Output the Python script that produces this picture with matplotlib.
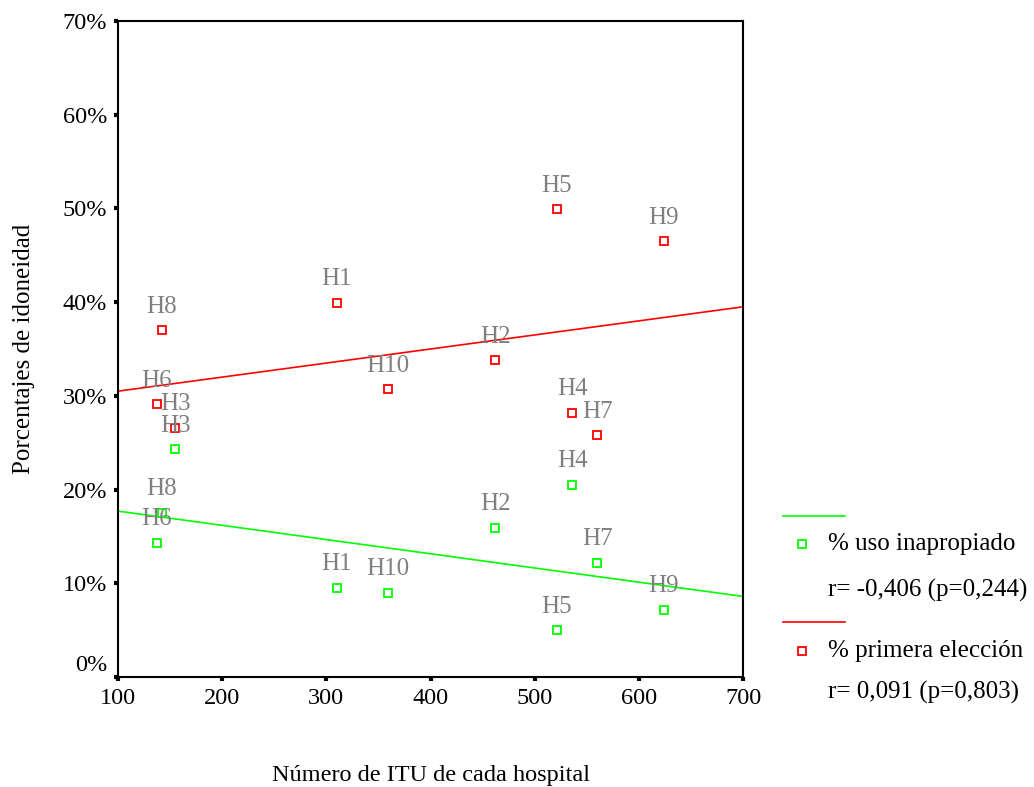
import matplotlib
matplotlib.use('Agg')
import matplotlib.pyplot as plt
import matplotlib.transforms as mtransforms
from matplotlib.lines import Line2D
import numpy as np

plt.rcParams['font.family'] = ['Liberation Serif', 'DejaVu Serif']

# hospitals and their values
hospitals = ['H1', 'H2', 'H3', 'H4', 'H5', 'H6', 'H7', 'H8', 'H9', 'H10']
n_itu = [310, 462, 155, 536, 521, 137, 560, 142, 624, 359]
primera_eleccion = [39.9, 33.8, 26.6, 28.2, 49.9, 29.1, 25.8, 37.0, 46.5, 30.7]
uso_inapropiado = [9.5, 15.9, 24.3, 20.5, 5.0, 14.3, 12.2, 17.5, 7.2, 9.0]

# fitted lines as drawn (value at x=100 and x=700)
fit_x = [100, 700]
fit_primera = [30.5, 39.5]
fit_inapropiado = [17.7, 8.6]

legend_text_inap = ['% uso inapropiado', 'r= -0,406 (p=0,244)']
legend_text_prim = ['% primera elección', 'r= 0,091 (p=0,803)']

red = '#ff0000'
green = '#00ff00'
gray = '#808080'

fig = plt.figure(figsize=(10.34, 7.87), dpi=100)
ax = fig.add_axes([118/1034, 1-677/787, 625/1034, 656/787])

ax.plot(fit_x, fit_primera, color=red, lw=1.2)
ax.plot(fit_x, fit_inapropiado, color=green, lw=1.2)

ax.plot(n_itu, primera_eleccion, 's', ms=6, mfc='white', mec=red, mew=1.3, ls='none')
ax.plot(n_itu, uso_inapropiado, 's', ms=6, mfc='white', mec=green, mew=1.3, ls='none')

for name, x, y1, y2 in zip(hospitals, n_itu, primera_eleccion, uso_inapropiado):
    for y in (y1, y2):
        ax.annotate(name, (x, y), xytext=(0, 17), textcoords='offset points',
                    ha='center', va='center', color=gray, fontsize=18)

ax.set_xlim(100, 700)
ax.set_ylim(0, 70)
ax.set_xticks(range(100, 701, 100))
ax.set_yticks(range(0, 71, 10))
ax.set_yticklabels(['%d%%' % v for v in range(0, 71, 10)])
ax.tick_params(direction='out', length=3, width=3, labelsize=17.5, color='black', pad=5)
for s in ax.spines.values():
    s.set_linewidth(1.5)

# SPSS draws the 0% label a bit above its tick
lab0 = ax.get_yticklabels()[0]
lab0.set_transform(lab0.get_transform() + mtransforms.ScaledTranslation(0, 0.14, fig.dpi_scale_trans))

ax.set_xlabel('Número de ITU de cada hospital', fontsize=17.5, labelpad=40)
ax.set_ylabel('Porcentajes de idoneidad', fontsize=18, labelpad=20)

# legend on the right
def fx(px):
    return px / 1034
def fy(py):
    return 1 - py / 787

fig.add_artist(Line2D([fx(783), fx(845)], [fy(516), fy(516)], color=green, lw=1.2))
fig.add_artist(Line2D([fx(802)], [fy(544)], marker='s', ms=6, mfc='white', mec=green, mew=1.3))
fig.text(fx(828), fy(544), legend_text_inap[0], fontsize=18, va='center')
fig.text(fx(828), fy(590), legend_text_inap[1], fontsize=18, va='center')
fig.add_artist(Line2D([fx(783), fx(845)], [fy(622), fy(622)], color=red, lw=1.2))
fig.add_artist(Line2D([fx(802)], [fy(651)], marker='s', ms=6, mfc='white', mec=red, mew=1.3))
fig.text(fx(828), fy(651), legend_text_prim[0], fontsize=18, va='center')
fig.text(fx(828), fy(692), legend_text_prim[1], fontsize=18, va='center')

fig.savefig('out.png', dpi=100)
